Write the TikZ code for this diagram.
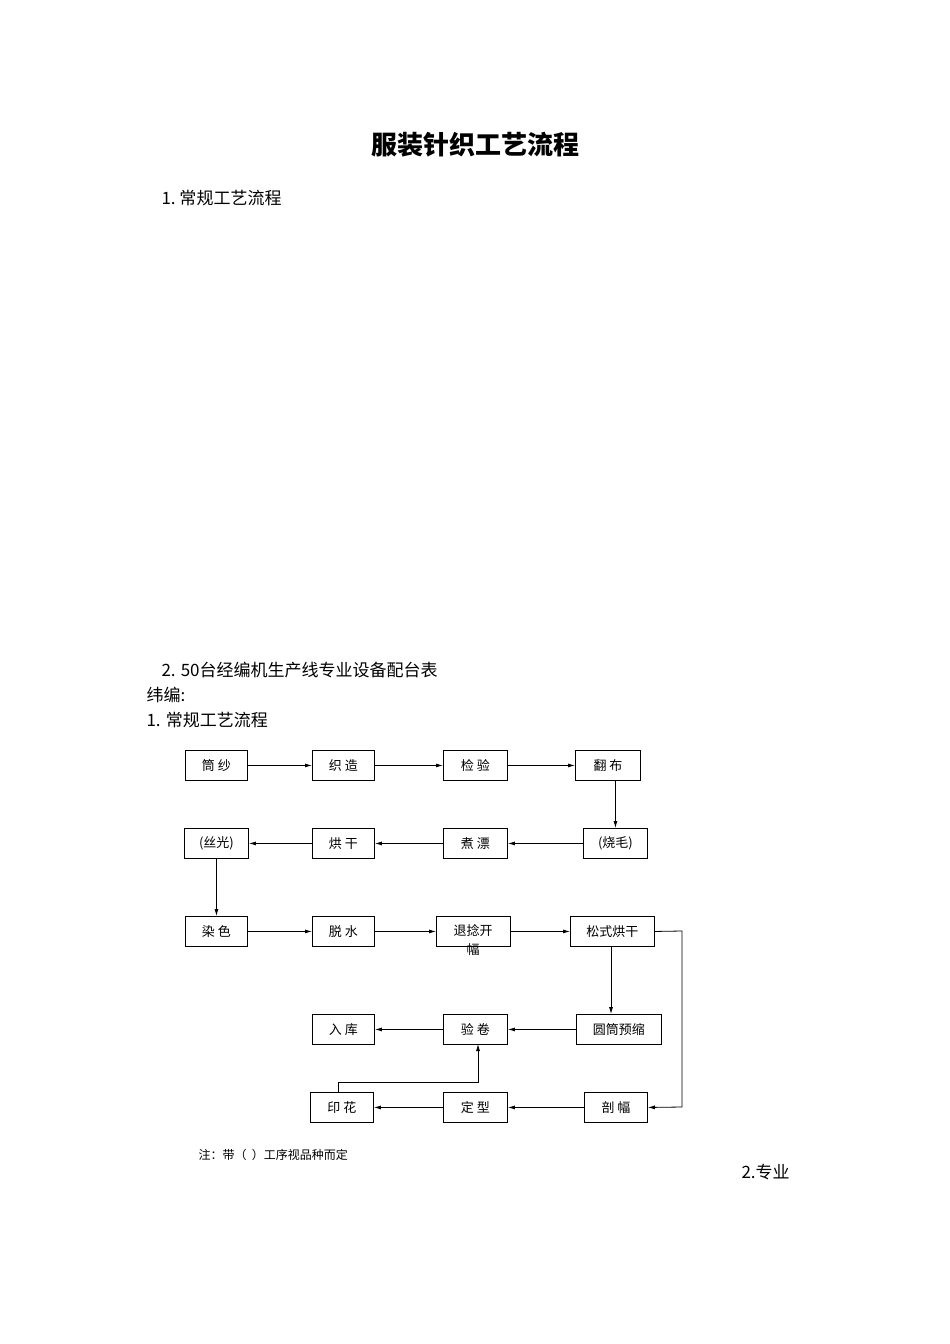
\documentclass[tikz,border=0pt]{standalone}
\usepackage{fontspec}
\setmainfont{Noto Sans CJK SC}
\usetikzlibrary{arrows.meta}
\begin{document}
\begin{tikzpicture}[x=1pt,y=-1pt,
  bx/.style={draw,line width=0.9pt,anchor=north west,inner sep=0pt,font=\fontsize{13}{13}\selectfont},
  ar/.style={-{Latex[length=7pt,width=4pt]},line width=0.8pt},
  ln/.style={line width=0.8pt}]
\useasboundingbox (0,0) rectangle (950,1344);
\node[font=\fontsize{26}{26}\selectfont\bfseries] (title) at (475,145) {服装针织工艺流程};
\node[anchor=west,font=\fontsize{17}{17}\selectfont] (h1) at (158,198) {1.\ 常规工艺流程};
\node[anchor=west,font=\fontsize{17}{17}\selectfont] (h2) at (158,670) {2. 50台经编机生产线专业设备配台表};
\node[anchor=west,font=\fontsize{17}{17}\selectfont] (h3) at (143,695) {纬编:};
\node[anchor=west,font=\fontsize{17}{17}\selectfont] (h4) at (143,720) {1. 常规工艺流程};
\node[anchor=west,font=\fontsize{17}{17}\selectfont] (h5) at (738,1172) {2.专业};
\node[anchor=west,font=\fontsize{12}{12}\selectfont] (note) at (195,1155) {注：带（\ \ ）工序视品种而定};
% boxes
\newcommand{\bxx}[6]{\node[bx,minimum width=#4pt,minimum height=#5pt] (#1) at (#2,#3) {}; \node at ($(#1)$) {};}
\node[bx,minimum width=62pt,minimum height=30pt] (a1) at (185,750) {};
\node[font=\fontsize{13}{13}\selectfont] (t1) at (a1) {筒\ 纱};
\node[bx,minimum width=62pt,minimum height=30pt] (a2) at (312,750) {};
\node[font=\fontsize{13}{13}\selectfont] (t2) at (a2) {织\ 造};
\node[bx,minimum width=64pt,minimum height=30pt] (a3) at (443,750) {};
\node[font=\fontsize{13}{13}\selectfont] (t3) at (a3) {检\ 验};
\node[bx,minimum width=65pt,minimum height=30pt] (a4) at (575,750) {};
\node[font=\fontsize{13}{13}\selectfont] (t4) at (a4) {翻\ 布};
\node[bx,minimum width=64pt,minimum height=30pt] (b1) at (184,828) {};
\node[font=\fontsize{13}{13}\selectfont] (u1) at (b1) {(丝光)};
\node[bx,minimum width=62pt,minimum height=30pt] (b2) at (312,828) {};
\node[font=\fontsize{13}{13}\selectfont] (u2) at (b2) {烘\ 干};
\node[bx,minimum width=64pt,minimum height=30pt] (b3) at (443,828) {};
\node[font=\fontsize{13}{13}\selectfont] (u3) at (b3) {煮\ 漂};
\node[bx,minimum width=64pt,minimum height=30pt] (b4) at (583,828) {};
\node[font=\fontsize{13}{13}\selectfont] (u4) at (b4) {(烧毛)};
\node[bx,minimum width=62pt,minimum height=30pt] (c1) at (185,916) {};
\node[font=\fontsize{13}{13}\selectfont] (v1) at (c1) {染\ 色};
\node[bx,minimum width=62pt,minimum height=30pt] (c2) at (312,916) {};
\node[font=\fontsize{13}{13}\selectfont] (v2) at (c2) {脱\ 水};
\node[bx,minimum width=74pt,minimum height=30pt] (c3) at (436,916) {};
\node[font=\fontsize{13}{13}\selectfont] (v3) at (473,931) {退捻开};
\node[font=\fontsize{13}{13}\selectfont] (v3b) at (473,950) {幅};
\node[bx,minimum width=84pt,minimum height=30pt] (c4) at (570,916) {};
\node[font=\fontsize{13}{13}\selectfont] (v4) at (c4) {松式烘干};
\node[bx,minimum width=62pt,minimum height=30pt] (d1) at (312,1014) {};
\node[font=\fontsize{13}{13}\selectfont] (w1) at (d1) {入\ 库};
\node[bx,minimum width=64pt,minimum height=30pt] (d2) at (443,1014) {};
\node[font=\fontsize{13}{13}\selectfont] (w2) at (d2) {验\ 卷};
\node[bx,minimum width=85pt,minimum height=30pt] (d3) at (576,1014) {};
\node[font=\fontsize{13}{13}\selectfont] (w3) at (d3) {圆筒预缩};
\node[bx,minimum width=63pt,minimum height=30pt] (e1) at (310,1092) {};
\node[font=\fontsize{13}{13}\selectfont] (x1) at (e1) {印\ 花};
\node[bx,minimum width=64pt,minimum height=30pt] (e2) at (443,1092) {};
\node[font=\fontsize{13}{13}\selectfont] (x2) at (e2) {定\ 型};
\node[bx,minimum width=63pt,minimum height=30pt] (e3) at (584,1092) {};
\node[font=\fontsize{13}{13}\selectfont] (x3) at (e3) {剖\ 幅};
% connectors
\draw[ar] (a1.east) -- (a2.west);
\draw[ar] (a2.east) -- (a3.west);
\draw[ar] (a3.east) -- (a4.west);
\draw[ar] (a4.south -| b4.north) -- (b4.north);
\draw[ar] (b4.west) -- (b3.east);
\draw[ar] (b3.west) -- (b2.east);
\draw[ar] (b2.west) -- (b1.east);
\draw[ar] (b1.south -| c1.north) -- (c1.north);
\draw[ar] (c1.east) -- (c2.west);
\draw[ar] (c2.east) -- (c3.west);
\draw[ar] (c3.east) -- (c4.west);
\coordinate (k1) at (611,946);
\coordinate (k2) at (611,1014);
\draw[ar] (k1) -- (k2);
\coordinate (r1) at (682,931);
\coordinate (r2) at (682,1107);
\draw[ar] (c4.east) -- (r1) -- (r2) -- (e3.east);
\draw[ar] (d3.west) -- (d2.east);
\draw[ar] (d2.west) -- (d1.east);
\draw[ar] (e3.west) -- (e2.east);
\draw[ar] (e2.west) -- (e1.east);
\coordinate (p1) at (338,1092);
\coordinate (p2) at (338,1082);
\coordinate (p3) at (478,1082);
\coordinate (p4) at (478,1044);
\draw[ar] (p1) -- (p2) -- (p3) -- (p4);
\end{tikzpicture}
\end{document}
